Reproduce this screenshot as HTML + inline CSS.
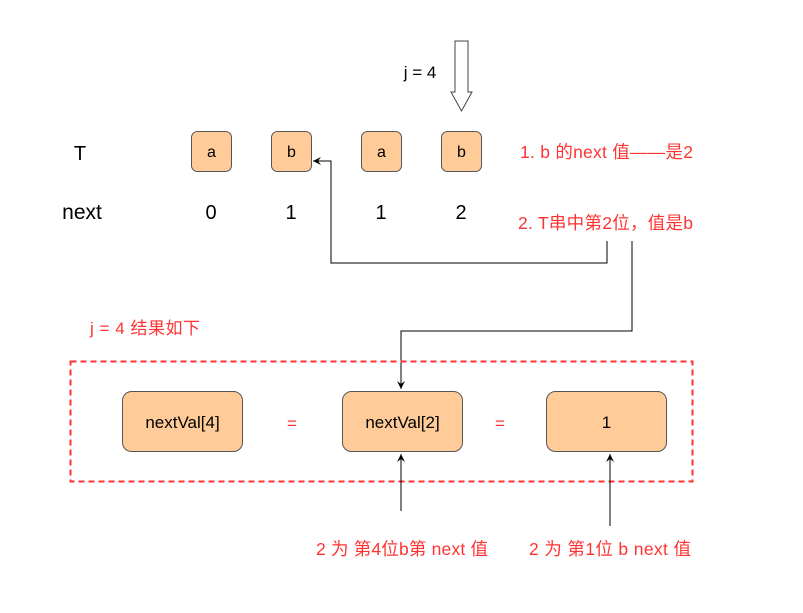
<!DOCTYPE html>
<html><head><meta charset="utf-8"><style>
html,body{margin:0;padding:0;background:#fff;}
svg{display:block;}
text{font-family:"Liberation Sans","Noto Sans CJK SC",sans-serif;}
</style></head><body>
<svg width="803" height="613" viewBox="0 0 803 613" xmlns="http://www.w3.org/2000/svg">
<defs>
<marker id="ah" markerWidth="10" markerHeight="10" refX="8" refY="5" orient="auto" markerUnits="userSpaceOnUse">
<path d="M0,1 L8,5 L0,9 L3,5 Z" fill="#000"/>
</marker>
</defs>
<path d="M455,41 L468,41 L468,92 L472,92 L461.5,111 L451,92 L455,92 Z" fill="#fff" stroke="#444" stroke-width="1"/>
<text x="420" y="78" font-size="17" text-anchor="middle">j = 4</text>
<text x="80" y="160" font-size="20" text-anchor="middle">T</text>
<text x="82" y="219" font-size="21" text-anchor="middle">next</text>
<g fill="#ffcc99" stroke="#555" stroke-width="1">
<rect x="191.5" y="131.5" width="40" height="40" rx="6"/>
<rect x="271.5" y="131.5" width="40" height="40" rx="6"/>
<rect x="361.5" y="131.5" width="40" height="40" rx="6"/>
<rect x="441.5" y="131.5" width="40" height="40" rx="6"/>
</g>
<g font-size="16" text-anchor="middle">
<text x="211.5" y="157">a</text><text x="291.5" y="157">b</text><text x="381.5" y="157">a</text><text x="461.5" y="157">b</text>
</g>
<g font-size="20" text-anchor="middle">
<text x="211" y="219">0</text><text x="291" y="219">1</text><text x="381" y="219">1</text><text x="461" y="219">2</text>
</g>
<text x="520" y="158" font-size="17.5" fill="#ff3333" textLength="173">1. b 的next 值——是2</text>
<text x="518" y="229" font-size="17.5" fill="#ff3333" textLength="175">2. T串中第2位，值是b</text>
<polyline points="607,241 607,263 331,263 331,161 313,161" fill="none" stroke="#000" stroke-width="1" marker-end="url(#ah)"/>
<polyline points="632,241 632,331 401,331 401,389" fill="none" stroke="#000" stroke-width="1" marker-end="url(#ah)"/>
<text x="90" y="334" font-size="17" fill="#ff3333" textLength="110">j = 4 结果如下</text>
<rect x="70.5" y="361.5" width="622" height="120" fill="none" stroke="#ff3333" stroke-width="2" stroke-dasharray="6,4"/>
<g fill="#ffcc99" stroke="#555" stroke-width="1">
<rect x="122.5" y="391.5" width="120" height="60" rx="9"/>
<rect x="342.5" y="391.5" width="120" height="60" rx="9"/>
<rect x="546.5" y="391.5" width="120" height="60" rx="9"/>
</g>
<g font-size="17" text-anchor="middle">
<text x="182.5" y="428">nextVal[4]</text><text x="402.5" y="428">nextVal[2]</text><text x="606.5" y="428">1</text>
</g>
<text x="292" y="429" font-size="17" fill="#ff3333" text-anchor="middle">=</text>
<text x="500" y="429" font-size="17" fill="#ff3333" text-anchor="middle">=</text>
<line x1="401" y1="511" x2="401" y2="454" stroke="#000" stroke-width="1" marker-end="url(#ah)"/>
<line x1="610" y1="526" x2="610" y2="454" stroke="#000" stroke-width="1" marker-end="url(#ah)"/>
<text x="316" y="555" font-size="17.5" fill="#ff3333" textLength="172">2 为 第4位b第 next 值</text>
<text x="529" y="555" font-size="17.5" fill="#ff3333" textLength="162">2 为 第1位 b next 值</text>
</svg>
</body></html>
